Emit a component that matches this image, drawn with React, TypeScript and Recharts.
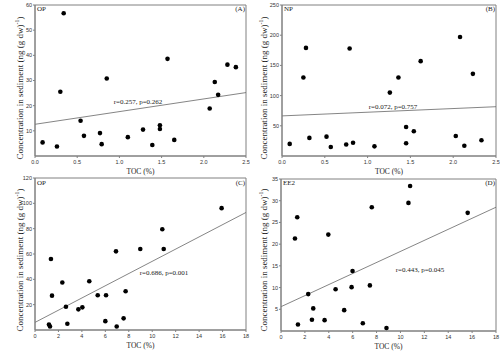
import React from "react";
import {
  ScatterChart,
  Scatter,
  XAxis,
  YAxis,
  ReferenceLine,
  ReferenceArea,
  Label,
} from "recharts";

// ---------- Panel A: OP vs TOC ----------
const tocA = [0.09, 0.26, 0.34, 0.3, 0.54, 0.58, 0.77, 0.79, 0.85, 1.1, 1.28, 1.39, 1.48, 1.48, 1.57, 1.65, 2.07, 2.13, 2.17, 2.28, 2.38];
const opA = [5.4, 3.8, 56.7, 25.5, 14.0, 8.0, 9.1, 4.7, 30.8, 7.5, 10.5, 4.4, 12.2, 10.7, 38.6, 6.4, 18.9, 29.4, 24.3, 36.3, 35.3];
const fitA = [
  { x: 0, y: 12.6 },
  { x: 2.5, y: 25.2 },
];
const xTicksA = [0, 0.5, 1, 1.5, 2, 2.5];
const yTicksA = [10, 20, 30, 40, 50, 60];

// ---------- Panel B: NP vs TOC ----------
const tocB = [0.09, 0.25, 0.28, 0.32, 0.52, 0.57, 0.75, 0.79, 0.83, 1.08, 1.26, 1.36, 1.45, 1.45, 1.54, 1.62, 2.03, 2.08, 2.13, 2.23, 2.33];
const npB = [20, 130, 179, 30, 32, 15, 19, 178, 22, 16, 105, 130, 48, 21, 41, 157, 33, 197, 17, 136, 26];
const fitB = [
  { x: 0, y: 66.4 },
  { x: 2.5, y: 81.6 },
];
const xTicksB = [0, 0.5, 1, 1.5, 2, 2.5];
const yTicksB = [50, 100, 150, 200, 250];

// ---------- Panel C: OP vs TOC ----------
const tocC = [1.19, 1.28, 1.36, 1.45, 2.33, 2.64, 2.76, 3.7, 4.04, 4.63, 5.35, 6.0, 6.06, 6.91, 6.97, 7.56, 7.73, 8.98, 10.86, 10.98, 15.92];
const opC = [4.4, 2.8, 56.0, 27.1, 37.5, 18.4, 4.9, 16.3, 17.9, 38.5, 27.4, 7.0, 27.4, 62.1, 2.8, 9.2, 30.6, 63.9, 79.5, 63.9, 96.2];
const fitC = [
  { x: 0, y: 6.0 },
  { x: 18, y: 92.8 },
];
const xTicksC = [0, 2, 4, 6, 8, 10, 12, 14, 16, 18];
const yTicksC = [20, 40, 60, 80, 100, 120];

// ---------- Panel D: EE2 vs TOC ----------
const tocD = [1.17, 1.36, 1.42, 2.28, 2.59, 2.7, 3.65, 3.96, 4.57, 5.29, 5.91, 5.99, 6.85, 7.44, 7.6, 8.83, 10.67, 10.81, 15.63];
const ee2D = [21.3, 26.2, 1.5, 8.5, 2.6, 5.2, 2.5, 22.2, 9.6, 4.8, 10.1, 13.8, 1.8, 10.5, 28.5, 0.7, 29.5, 33.4, 27.2];
const fitD = [
  { x: 0, y: 5.6 },
  { x: 18, y: 28.5 },
];
const xTicksD = [0, 2, 4, 6, 8, 10, 12, 14, 16, 18];
const yTicksD = [5, 10, 15, 20, 25, 30, 35];

const SERIF = "'Liberation Serif', 'DejaVu Serif', serif";
const SANS = "'Liberation Sans', Arial, sans-serif";
const AXIS = "#808080";
const TEXT = "#222";

type PanelProps = {
  left: number;
  top: number;
  width: number;
  height: number;
  yAxisWidth: number;
  xs: number[];
  ys: number[];
  fit: { x: number; y: number }[];
  xDomain: [number, number];
  yDomain: [number, number];
  xTicks: number[];
  yTicks: number[];
  xDecimals: number;
  name: string;
  tag: string;
  tagX: number;
  tagY: number;
  note: string;
  noteX: number;
  noteY: number;
  yLabelX: number;
  yLabelY: number;
};

const Dot = (p: any) => <circle cx={p.cx} cy={p.cy} r={2.3} fill="#000" />;

function Panel(props: PanelProps) {
  const {
    left, top, width, height, yAxisWidth, xs, ys, fit, xDomain, yDomain,
    xTicks, yTicks, xDecimals, name, tag, tagX, tagY, note, noteX, noteY, yLabelX, yLabelY,
  } = props;
  const data = xs.map((x, i) => ({ x, y: ys[i] }));
  const marginRight = 4;
  const plotRight = width - marginRight;

  const xLabel = (lp: any) => {
    const vb = lp.viewBox || {};
    return (
      <g>
        <text
          x={vb.x + vb.width / 2}
          y={vb.y + 15}
          textAnchor="middle"
          dominantBaseline="central"
          fontFamily={SERIF}
          fontSize={7.5}
          fill={TEXT}
        >
          TOC (%)
        </text>
        <text x={tagX} y={tagY} textAnchor="start" dominantBaseline="central" fontFamily={SERIF} fontSize={7} fill={TEXT}>
          {name}
        </text>
        <text x={plotRight - 1} y={tagY} textAnchor="end" dominantBaseline="central" fontFamily={SERIF} fontSize={7} fill={TEXT}>
          {tag}
        </text>
        <text x={noteX} y={noteY} textAnchor="middle" dominantBaseline="central" fontFamily={SERIF} fontSize={7} fill={TEXT}>
          {note}
        </text>
      </g>
    );
  };

  const yLabel = () => (
    <text
      x={yLabelX}
      y={yLabelY}
      transform={`rotate(-90 ${yLabelX} ${yLabelY})`}
      textAnchor="middle"
      dominantBaseline="central"
      fontFamily={SERIF}
      fontSize={9}
      fill={TEXT}
    >
      Concentration in sediment (ng (g dw)
      <tspan dy={-3} fontSize={6}>-1</tspan>
      <tspan dy={3}>)</tspan>
    </text>
  );

  return (
    <div style={{ position: "absolute", left, top, width, height }}>
      <ScatterChart width={width} height={height} margin={{ top: 5, right: marginRight, left: 0, bottom: 0 }}>
        <XAxis
          type="number"
          dataKey="x"
          domain={xDomain}
          ticks={xTicks}
          interval={0}
          allowDataOverflow
          height={20}
          tickSize={2}
          tickMargin={2}
          stroke={AXIS}
          tick={{ fontSize: 5.5, fontFamily: SANS, fill: "#333" }}
          tickFormatter={(v: number) => v.toFixed(xDecimals)}
        >
          <Label content={xLabel} />
        </XAxis>
        <YAxis
          type="number"
          dataKey="y"
          domain={yDomain}
          ticks={yTicks}
          interval={0}
          allowDataOverflow
          width={yAxisWidth}
          tickSize={2}
          tickMargin={1}
          stroke={AXIS}
          tick={{ fontSize: 5.5, fontFamily: SANS, fill: "#333" }}
        >
          <Label content={yLabel} />
        </YAxis>
        <ReferenceArea
          x1={xDomain[0]}
          x2={xDomain[1]}
          y1={yDomain[0]}
          y2={yDomain[1]}
          fill="none"
          fillOpacity={0}
          stroke={AXIS}
          strokeWidth={1}
        />
        <ReferenceLine segment={fit} stroke="#666" strokeWidth={0.8} />
        <Scatter data={data} shape={Dot} isAnimationActive={false} />
      </ScatterChart>
    </div>
  );
}

export default function App() {
  return (
    <div style={{ position: "absolute", left: 0, top: 0, width: 500, height: 353, background: "#fff", overflow: "hidden" }}>
      <Panel
        left={0} top={0} width={250} height={176} yAxisWidth={35}
        xs={tocA} ys={opA} fit={fitA} xDomain={[0, 2.5]} yDomain={[0, 60]}
        xTicks={xTicksA} yTicks={yTicksA} xDecimals={1}
        name="OP" tag="(A)" tagX={37} tagY={9}
        note="r=0.257, p=0.262" noteX={138} noteY={102}
        yLabelX={20} yLabelY={88}
      />
      <Panel
        left={250} top={0} width={250} height={176} yAxisWidth={32}
        xs={tocB} ys={npB} fit={fitB} xDomain={[0, 2.5]} yDomain={[0, 250]}
        xTicks={xTicksB} yTicks={yTicksB} xDecimals={1}
        name="NP" tag="(B)" tagX={34} tagY={9}
        note="r=0.072, p=0.757" noteX={143} noteY={107}
        yLabelX={14} yLabelY={88}
      />
      <Panel
        left={0} top={173} width={250} height={177} yAxisWidth={35}
        xs={tocC} ys={opC} fit={fitC} xDomain={[0, 18]} yDomain={[0, 120]}
        xTicks={xTicksC} yTicks={yTicksC} xDecimals={0}
        name="OP" tag="(C)" tagX={37} tagY={10}
        note="r=0.686, p=0.001" noteX={164} noteY={100}
        yLabelX={20} yLabelY={87}
      />
      <Panel
        left={250} top={174} width={250} height={177} yAxisWidth={31}
        xs={tocD} ys={ee2D} fit={fitD} xDomain={[0, 18]} yDomain={[0, 35]}
        xTicks={xTicksD} yTicks={yTicksD} xDecimals={0}
        name="EE2" tag="(D)" tagX={33} tagY={9}
        note="r=0.443, p=0.045" noteX={170} noteY={96}
        yLabelX={14} yLabelY={86}
      />
    </div>
  );
}
